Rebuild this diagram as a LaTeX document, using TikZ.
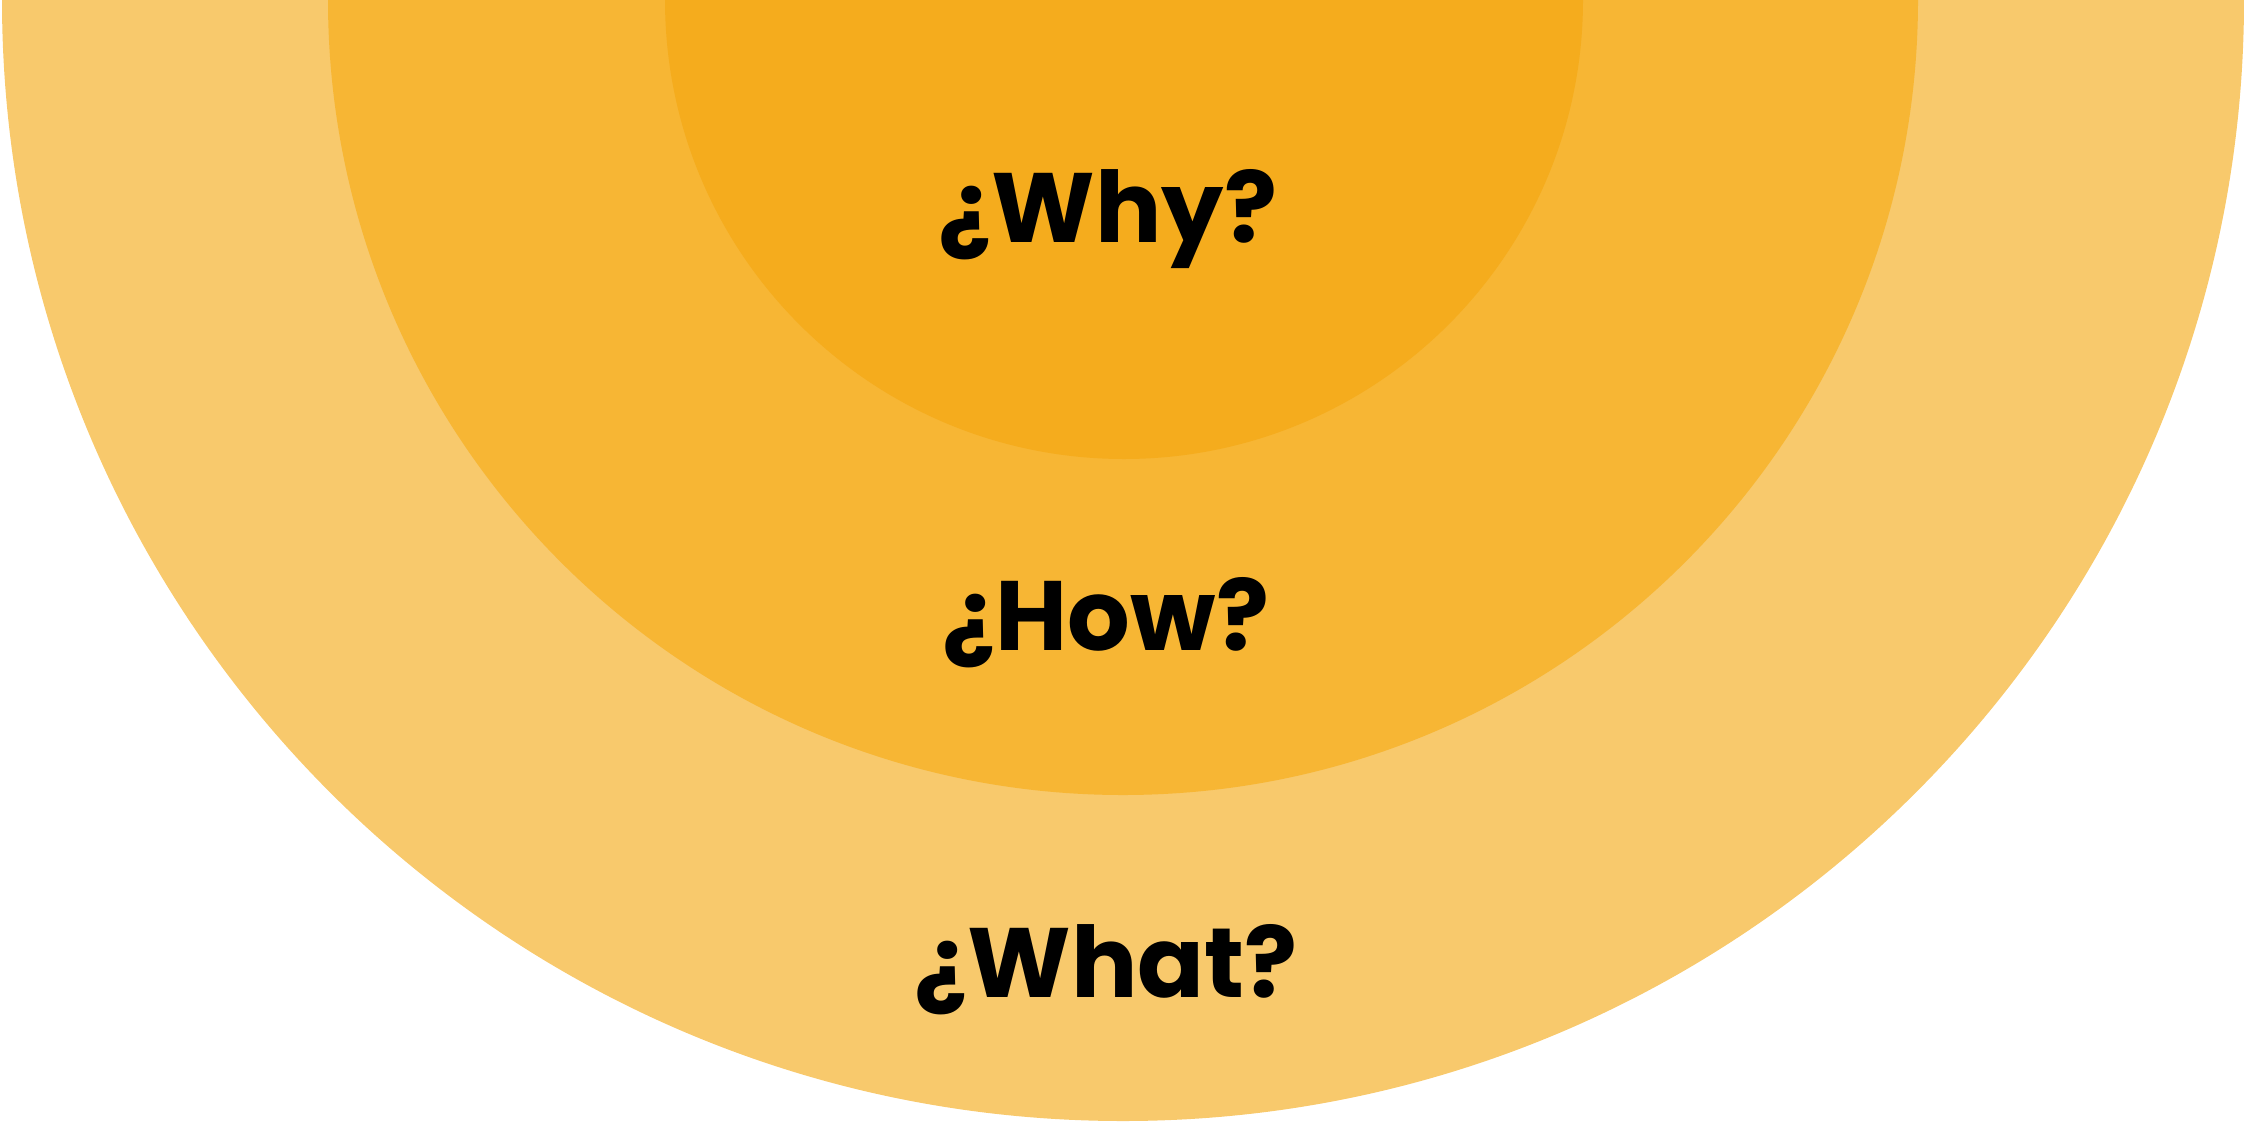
\documentclass[tikz,border=0pt]{standalone}
\usepackage{fontspec}
\setmainfont{Poppins}
\definecolor{ringouter}{HTML}{F8C96C}
\definecolor{ringmid}{HTML}{F7B634}
\definecolor{ringinner}{HTML}{F5AC1D}
\tikzset{
  question/.style={inner sep=0pt, anchor=base, text=black,
    font=\fontsize{34.5}{40}\selectfont\bfseries}
}
\begin{document}
\begin{tikzpicture}[x=0.35pt,y=0.35pt]
  \useasboundingbox (0,0) rectangle (2244,-1123);
  \clip (0,0) rectangle (2244,-1123);
  % three nested half-discs hanging from the top edge
  \fill[ringouter] (1123,0) circle[radius=1121];
  \fill[ringmid]   (1123,0) circle[radius=795];
  \fill[ringinner] (1124,0) circle[radius=459];
  % labels
  \node[question] (why)  at (1108,-242) {¿Why?};
  \node[question] (how)  at (1106,-650) {¿How?};
  \node[question] (what) at (1106,-997) {¿What?};
\end{tikzpicture}
\end{document}
